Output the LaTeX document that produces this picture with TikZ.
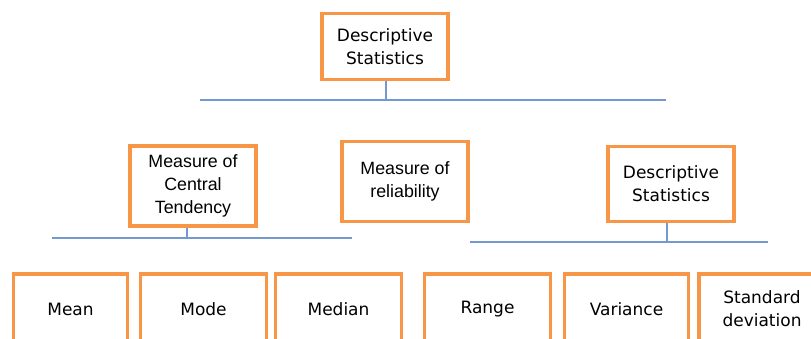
\documentclass[tikz,border=0pt]{standalone}
\usepackage{fontspec}
\setmainfont{DejaVu Sans}
\newfontfamily\arialf{Liberation Sans}
\definecolor{boxorange}{HTML}{F79646}
\definecolor{linkblue}{HTML}{7399D0}
\begin{document}
\begin{tikzpicture}[x=1pt,y=-1pt,
  box/.style={draw=boxorange, line width=3.5pt, fill=white, inner sep=0pt,
    align=center, font=\fontsize{17}{23}\selectfont},
  arbox/.style={box, font=\arialf\fontsize{17.8}{23.3}\selectfont},
  link/.style={draw=linkblue, line width=1.5pt}]
\fill[white] (0,0) rectangle (811,338);
\clip (0,0) rectangle (811,338);
% top
\node[box, minimum width=126pt, minimum height=66pt] (top) at (385,46.5) {Descriptive\\Statistics};
\coordinate (bus1l) at (200,100);
\coordinate (bus1r) at (666,100);
\coordinate (bus1c) at (386,100);
\draw[link] (bus1l) -- (bus1r);
\draw[link] (top.south -| bus1c) -- (bus1c);
% middle
\node[arbox, minimum width=126pt, minimum height=80pt] (mct) at (193,186) {Measure of\\Central\\Tendency};
\node[arbox, minimum width=126pt, minimum height=80pt] (rel) at (405,181.5) {Measure of\\reliability};
\node[box, minimum width=126pt, minimum height=75pt] (ds2) at (671,184) {Descriptive\\Statistics};
\coordinate (bus2l) at (52,238);
\coordinate (bus2r) at (352,238);
\coordinate (bus2c) at (187,238);
\draw[link] (bus2l) -- (bus2r);
\draw[link] (mct.south -| bus2c) -- (bus2c);
\coordinate (bus3l) at (470,242);
\coordinate (bus3r) at (768,242);
\coordinate (bus3c) at (667,242);
\draw[link] (bus3l) -- (bus3r);
\draw[link] (ds2.south -| bus3c) -- (bus3c);
% bottom
\node[box, minimum width=114pt, minimum height=70pt] (mean) at (70.5,309) {Mean};
\node[box, minimum width=126pt, minimum height=70pt] (mode) at (203.5,309) {Mode};
\node[box, minimum width=126pt, minimum height=70pt] (median) at (338.5,309) {Median};
\node[box, minimum width=126pt, minimum height=70pt] (range) at (487.5,309) {Range};
\node[box, minimum width=124pt, minimum height=70pt] (var) at (626.5,309) {Variance};
\node[box, minimum width=126pt, minimum height=70pt] (sd) at (762,309) {Standard\\deviation};
\end{tikzpicture}
\end{document}
